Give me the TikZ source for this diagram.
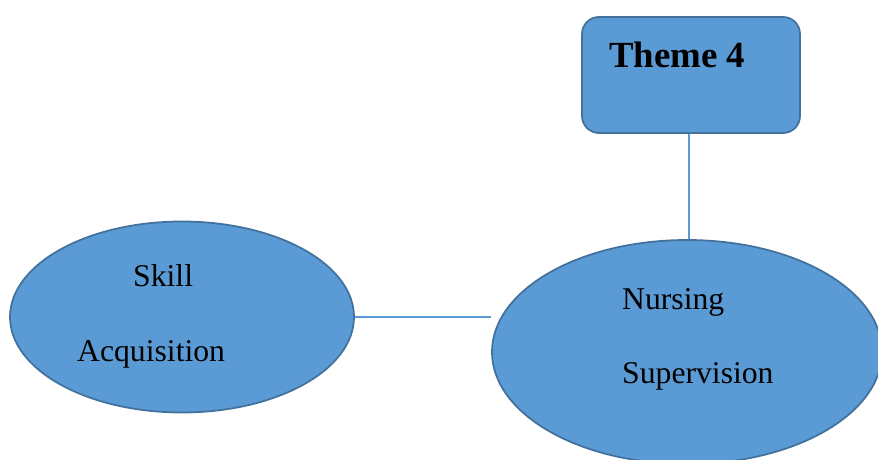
\documentclass[tikz,border=0pt]{standalone}
\usepackage{fontspec}
\setmainfont{Liberation Serif}
\usetikzlibrary{shapes.geometric,backgrounds}
\definecolor{shapefill}{HTML}{5B9BD5}
\definecolor{shapeedge}{HTML}{41719C}
\definecolor{linkblue}{HTML}{5B9BD5}
\tikzset{
  bubble/.style={ellipse, draw=shapeedge, fill=shapefill, line width=1.75bp, inner sep=0pt},
  themebox/.style={rectangle, rounded corners=17bp, draw=shapeedge, fill=shapefill, line width=1.75bp, inner sep=0pt},
  link/.style={draw=linkblue, line width=1.2bp},
  label/.style={anchor=base west, inner sep=0pt, font=\fontsize{31.8}{38}\selectfont},
  title/.style={anchor=base west, inner sep=0pt, font=\fontsize{37}{44}\selectfont\bfseries}
}
\begin{document}
\begin{tikzpicture}[x=1bp,y=-1bp]
  \useasboundingbox (0,0) rectangle (878,460);
  \clip (0,0) rectangle (878,460);

  % shapes
  \node[themebox, minimum width=218bp, minimum height=116bp] (theme) at (691,75) {};
  \node[bubble, minimum width=344bp, minimum height=191bp] (skill) at (182,317) {};
  \node[bubble, minimum width=390bp, minimum height=224bp] (nurse) at (687,352) {};

  % connectors, kept behind the shapes
  \begin{scope}[on background layer]
    \draw[link] (theme.south -| 689,0) -- (689,0 |- nurse.north);
    \draw[link] (skill.east) -- (nurse.west |- skill.east);
  \end{scope}

  % texts
  \node[title] (themetext) at (609,68) {Theme 4};
  \node[label] (skill1) at (133,287) {Skill};
  \node[label] (skill2) at (77,362) {Acquisition};
  \node[label] (nurse1) at (622,310) {Nursing};
  \node[label] (nurse2) at (622,384) {Supervision};
\end{tikzpicture}
\end{document}
